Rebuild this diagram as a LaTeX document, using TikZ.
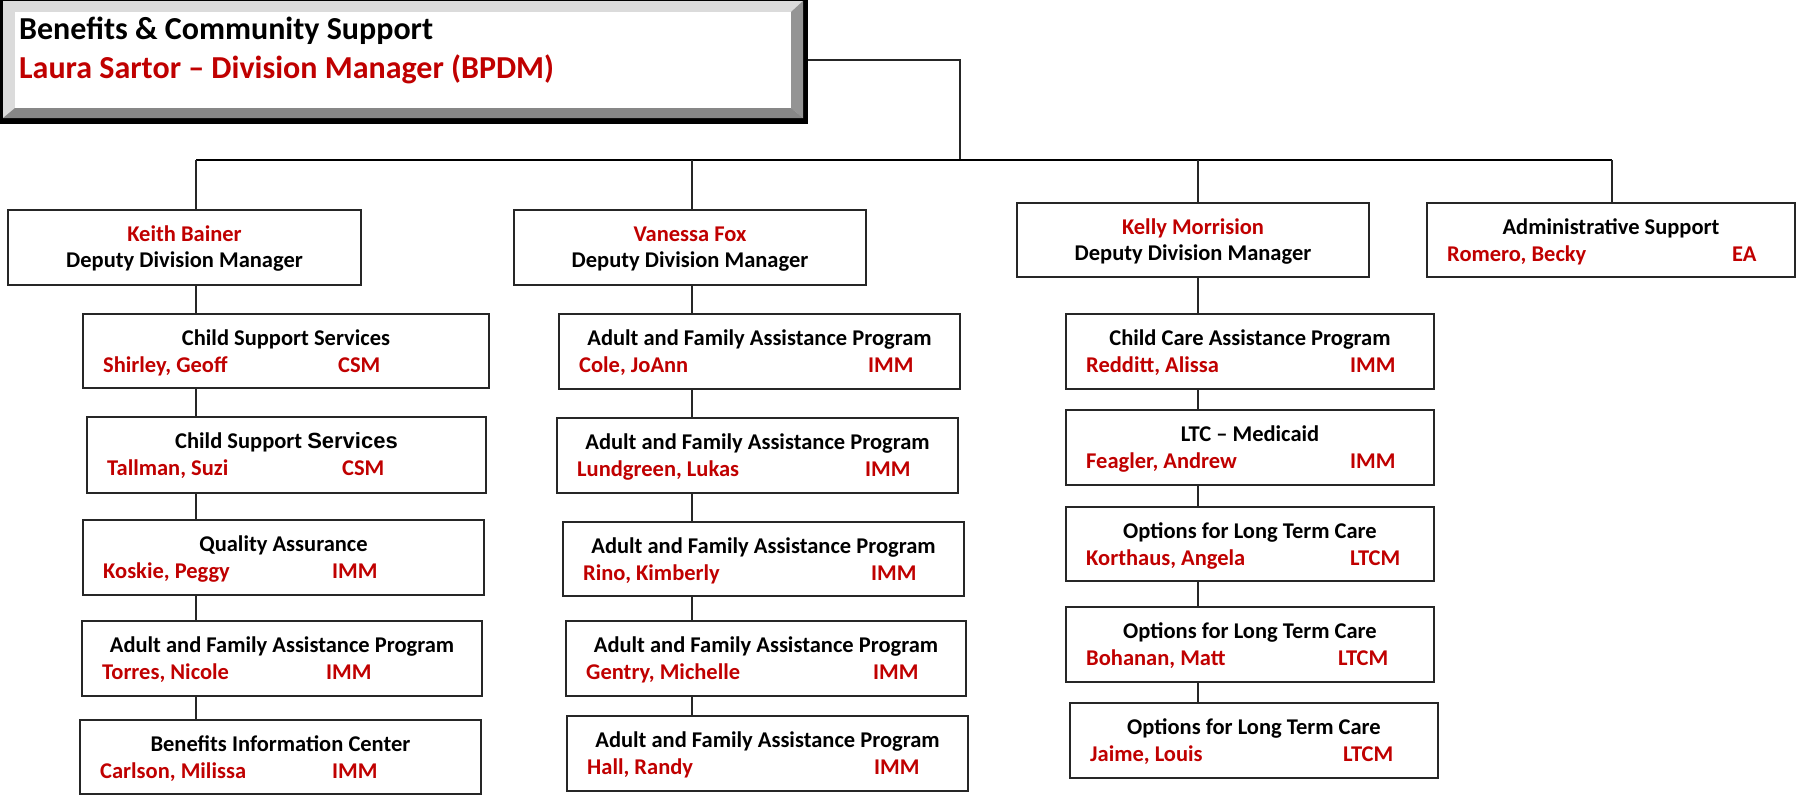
\documentclass[tikz,border=0pt]{standalone}
\usepackage{fontspec}
\setmainfont{Carlito}
\newfontfamily\arialf{Liberation Sans}
\definecolor{dred}{HTML}{C00000}
\newcommand\obox[9]{%
  \node[box, minimum width={(#4-#2)*1pt}, minimum height={(#5-#3)*1pt}] (#1) at ({(#2+#4)/2},{(#3+#5)/2}) {};
  \node[head] (#1h) at ({(#2+#4)/2},{#3+31}) {#6};
  \node[pname] (#1n) at ({#2+20},{#3+58}) {#7};
  \node[pname] (#1t) at (#9,{#3+58}) {#8};
}
\newcommand\dbox[6]{%
  \node[box, minimum width={(#4-#2)*1pt}, minimum height={(#5-#3)*1pt}] (#1) at ({(#2+#4)/2},{(#3+#5)/2}) {};
  \node[head, text=dred] (#1n) at ({(#2+#4)/2},{#3+31}) {#6};
  \node[head] (#1t) at ({(#2+#4)/2},{#3+57}) {Deputy Division Manager};
}
\begin{document}
\begin{tikzpicture}[x=1pt,y=-1pt,
  box/.style={draw=black!85, line width=1.8pt, fill=white, inner sep=0pt},
  head/.style={inner sep=0pt, anchor=base, font=\fontsize{22.5}{27}\selectfont\bfseries},
  pname/.style={inner sep=0pt, anchor=base west, text=dred, font=\fontsize{22.5}{27}\selectfont\bfseries},
  toptext/.style={inner sep=0pt, anchor=base west, font=\fontsize{32}{38}\selectfont\bfseries},
  link/.style={line width=1.6pt, draw=black!85},
  bus/.style={line width=2.4pt, draw=black}]
\useasboundingbox (0,0) rectangle (1797,800);
% top box with bevel
\fill[black] (0,0) rectangle (808,124);
\fill[black!14] (3,1) rectangle (803,118);
\fill[black!42] (803,1) -- (803,118) -- (791,108) -- (791,12) -- cycle;
\fill[black!47] (3,118) -- (803,118) -- (791,108) -- (15,108) -- cycle;
\fill[white] (15,12) rectangle (791,108);
\node[inner sep=0pt, minimum width=808pt, minimum height=124pt] (top) at (404,62) {};
\node[toptext] (topa) at (19,40) {Benefits \& Community Support};
\node[toptext, text=dred] (topb) at (19,78) {Laura Sartor – Division Manager (BPDM)};
% coordinates
\coordinate (colA) at (196,0);
\coordinate (colB) at (692,0);
\coordinate (colC) at (1198,0);
\coordinate (colD) at (1612,0);
\coordinate (busL) at (196,160);
\coordinate (busR) at (1612,160);
\coordinate (busJ) at (960,160);
% deputies
\dbox{keith}{8}{210}{361}{285}{Keith Bainer}
\dbox{vanessa}{514}{210}{866}{285}{Vanessa Fox}
\dbox{kelly}{1017}{203}{1369}{277}{Kelly Morrision}
\obox{admin}{1427}{203}{1795}{277}{Administrative Support}{Romero, Becky}{EA}{1732}
% left column
\obox{shirley}{83}{314}{489}{388}{Child Support Services}{Shirley, Geoff}{CSM}{338}
\obox{tallman}{87}{417}{486}{493}{Child Support {\arialf\bfseries\fontsize{22}{26}\selectfont Services}}{Tallman, Suzi}{CSM}{342}
\obox{qa}{83}{520}{484}{595}{Quality Assurance}{Koskie, Peggy}{IMM}{332}
\obox{torres}{82}{621}{482}{696}{Adult and Family Assistance Program}{Torres, Nicole}{IMM}{326}
\obox{bic}{80}{720}{481}{794}{Benefits Information Center}{Carlson, Milissa}{IMM}{332}
% middle column
\obox{cole}{559}{314}{960}{389}{Adult and Family Assistance Program}{Cole, JoAnn}{IMM}{868}
\obox{lund}{557}{418}{958}{493}{Adult and Family Assistance Program}{Lundgreen, Lukas}{IMM}{865}
\obox{rino}{563}{522}{964}{596}{Adult and Family Assistance Program}{Rino, Kimberly}{IMM}{871}
\obox{gentry}{566}{621}{966}{696}{Adult and Family Assistance Program}{Gentry, Michelle}{IMM}{873}
\obox{hall}{567}{716}{968}{791}{Adult and Family Assistance Program}{Hall, Randy}{IMM}{874}
% right column
\obox{redditt}{1066}{314}{1434}{389}{Child Care Assistance Program}{Redditt, Alissa}{IMM}{1350}
\obox{feagler}{1066}{410}{1434}{485}{LTC – Medicaid}{Feagler, Andrew}{IMM}{1350}
\obox{korthaus}{1066}{507}{1434}{581}{Options for Long Term Care}{Korthaus, Angela}{LTCM}{1350}
\obox{bohanan}{1066}{607}{1434}{682}{Options for Long Term Care}{Bohanan, Matt}{LTCM}{1338}
\obox{jaime}{1070}{703}{1438}{778}{Options for Long Term Care}{Jaime, Louis}{LTCM}{1343}
% connectors
\draw[link] (top.east |- 0,60) -| (busJ);
\draw[bus] (busL) -- (busR);
\draw[link] (busL) -- (keith.north -| colA);
\draw[link] (colB |- busL) -- (vanessa.north -| colB);
\draw[link] (colC |- busL) -- (kelly.north -| colC);
\draw[link] (busR) -- (admin.north -| colD);
\foreach \a/\b in {keith/shirley, shirley/tallman, tallman/qa, qa/torres, torres/bic}
  \draw[link] (\a.south -| colA) -- (\b.north -| colA);
\foreach \a/\b in {vanessa/cole, cole/lund, lund/rino, rino/gentry, gentry/hall}
  \draw[link] (\a.south -| colB) -- (\b.north -| colB);
\foreach \a/\b in {kelly/redditt, redditt/feagler, feagler/korthaus, korthaus/bohanan, bohanan/jaime}
  \draw[link] (\a.south -| colC) -- (\b.north -| colC);
\end{tikzpicture}
\end{document}
